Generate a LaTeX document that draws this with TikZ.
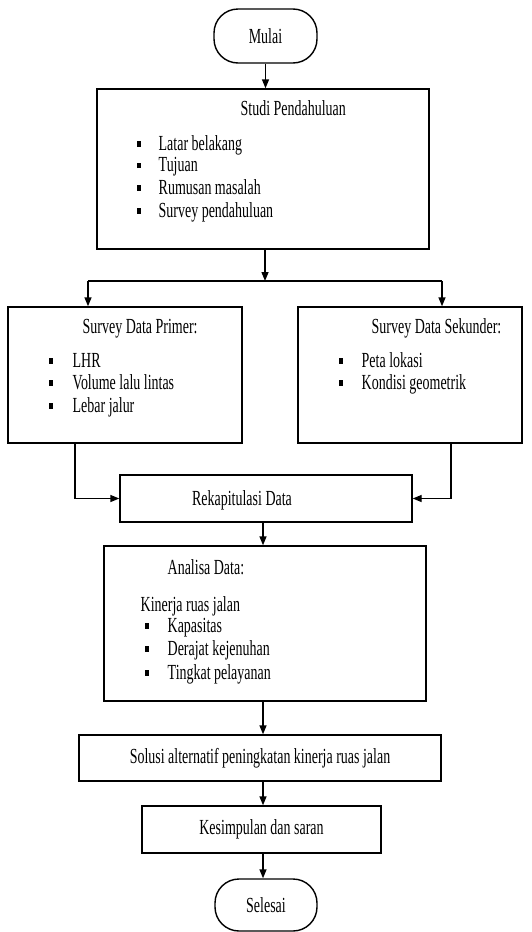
\documentclass[tikz,border=0pt]{standalone}
\usepackage{fontspec}
\setmainfont{Liberation Serif}[FakeStretch=0.65]
\usetikzlibrary{arrows.meta}
\newcommand{\bul}[1]{\makebox[#1][l]{\rule[3.5pt]{4pt}{5.5pt}}}
\begin{document}
\begin{tikzpicture}[x=1pt,y=-1pt, line width=1.4pt,
  box/.style={draw, rectangle, inner sep=0pt, font=\fontsize{21.5}{22}\selectfont},
  term/.style={draw, rounded corners=24pt, inner sep=0pt, font=\fontsize{21.5}{22}\selectfont},
  txt/.style={inner sep=0pt, font=\fontsize{21.5}{22}\selectfont},
  arr/.style={-{Triangle[length=9pt,width=7pt]}}]
\useasboundingbox (0,0) rectangle (531,932);

% boxes
\node[term, minimum width=103pt, minimum height=54pt] (mulai) at (265.5,36) {Mulai};
\node[box, minimum width=332pt, minimum height=160pt] (studi) at (263,169) {};
\node[box, minimum width=234pt, minimum height=136pt] (primer) at (125,375) {};
\node[box, minimum width=224pt, minimum height=136pt] (sekunder) at (410,375) {};
\node[box, minimum width=292pt, minimum height=47pt] (rekap) at (266,498.5) {};
\node[box, minimum width=322pt, minimum height=155pt] (analisa) at (265,623.5) {};
\node[box, minimum width=362pt, minimum height=46pt] (solusi) at (260,758) {Solusi alternatif peningkatan kinerja ruas jalan};
\node[box, minimum width=239pt, minimum height=47pt] (kesimpulan) at (261.5,829.5) {Kesimpulan dan saran};
\node[term, minimum width=102pt, minimum height=52pt] (selesai) at (266,905) {Selesai};

% texts
\node[txt, anchor=base west] (tstudi) at (240,115) {Studi Pendahuluan};
\node[txt, anchor=base west] (s1) at (136,150) {\bul{22pt}Latar belakang};
\node[txt, anchor=base west] (s2) at (136,171.5) {\bul{22pt}Tujuan};
\node[txt, anchor=base west] (s3) at (136,194) {\bul{22pt}Rumusan masalah};
\node[txt, anchor=base west] (s4) at (136,217) {\bul{22pt}Survey pendahuluan};

\node[txt, anchor=base west] (tprimer) at (82,333) {Survey Data Primer:};
\node[txt, anchor=base west] (p1) at (48,367) {\bul{24pt}LHR};
\node[txt, anchor=base west] (p2) at (48,389) {\bul{24pt}Volume lalu lintas};
\node[txt, anchor=base west] (p3) at (48,412) {\bul{24pt}Lebar jalur};

\node[txt, anchor=base west] (tsek) at (371,333) {Survey Data Sekunder:};
\node[txt, anchor=base west] (k1) at (338,367) {\bul{23pt}Peta lokasi};
\node[txt, anchor=base west] (k2) at (338,389) {\bul{23pt}Kondisi geometrik};

\node[txt, anchor=base] (trekap) at (242,505) {Rekapitulasi Data};

\node[txt, anchor=base west] (tanalisa) at (167,574) {Analisa Data:};
\node[txt, anchor=base west] (kin) at (140,611) {Kinerja ruas jalan};
\node[txt, anchor=base west] (a1) at (144,632) {\bul{23pt}Kapasitas};
\node[txt, anchor=base west] (a2) at (144,655) {\bul{23pt}Derajat kejenuhan};
\node[txt, anchor=base west] (a3) at (144,679) {\bul{23pt}Tingkat pelayanan};

% connectors
\coordinate (cx) at (263,0);
\coordinate (j) at (265,281);
\coordinate (jl) at (88,281);
\coordinate (jr) at (442,281);
\draw[arr] (mulai.south) -- (mulai.south |- studi.north);
\draw[arr] (j |- studi.south) -- (j);
\draw (jl) -- (jr);
\draw[arr] (jl) -- (jl |- primer.north);
\draw[arr] (jr) -- (jr |- sekunder.north);
\draw[arr] ([xshift=-50pt]primer.south) |- (rekap.west);
\draw[arr] ([xshift=41pt]sekunder.south) |- (rekap.east);
\draw[arr] (cx |- rekap.south) -- (cx |- analisa.north);
\draw[arr] (cx |- analisa.south) -- (cx |- solusi.north);
\draw[arr] (cx |- solusi.south) -- (cx |- kesimpulan.north);
\draw[arr] (cx |- kesimpulan.south) -- (cx |- selesai.north);
\end{tikzpicture}
\end{document}
